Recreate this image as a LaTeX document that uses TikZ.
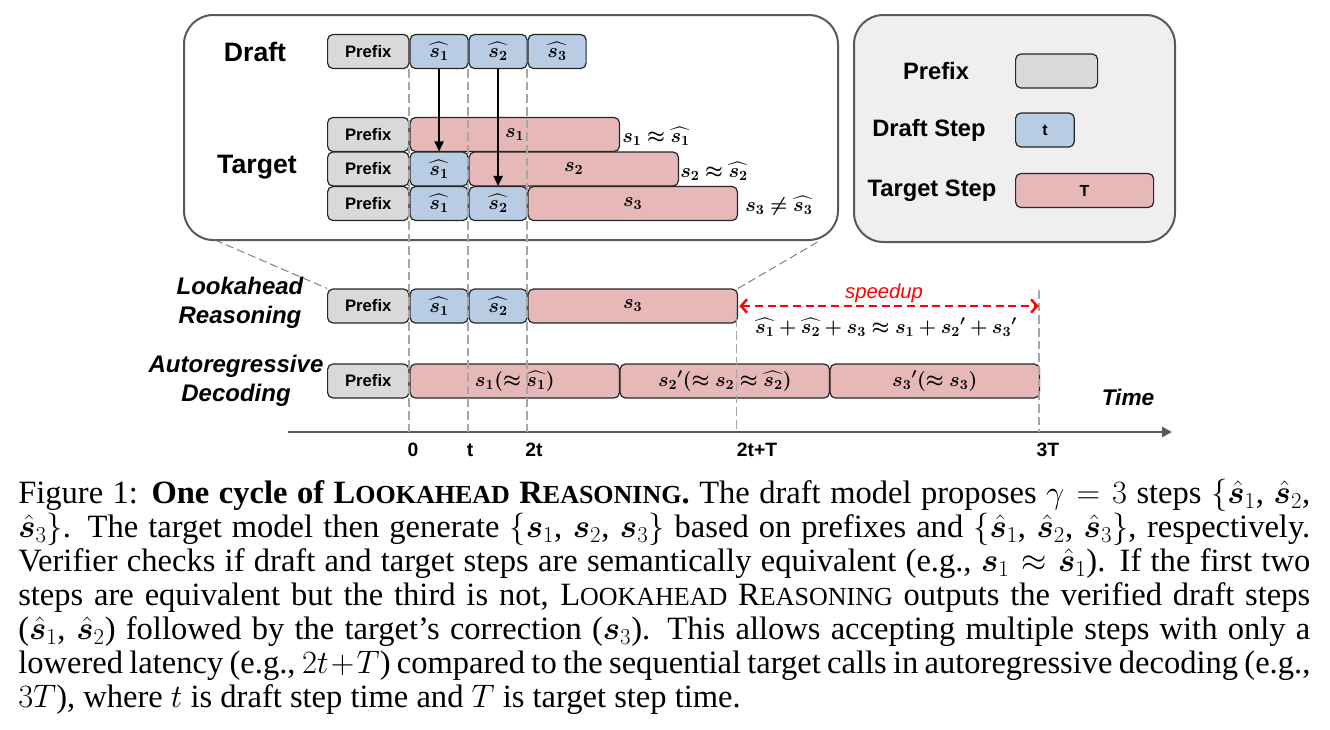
\RequirePackage{fix-cm}
\documentclass[tikz,border=0pt]{standalone}
\usepackage{amsmath,bm}
\usepackage{fontspec}
\setmainfont{Liberation Serif}
\newfontfamily\arial{Liberation Sans}
\usetikzlibrary{arrows.meta}

\definecolor{prefixgray}{HTML}{D9D9D9}
\definecolor{draftblue}{HTML}{B8CCE4}
\definecolor{targetpink}{HTML}{E6B8B7}
\definecolor{framegray}{HTML}{595959}
\definecolor{gridgray}{HTML}{A6A6A6}
\definecolor{legendbg}{HTML}{EFEFEF}

\newcommand{\fakesc}[2]{#1{\fontsize{19.5}{25.5}\selectfont #2}}

\tikzset{
    bar/.style={
        draw=black!85,
        line width=0.9pt,
        rounded corners=4pt,
        anchor=west,
        inner sep=0pt,
        minimum height=25.5pt,
        font=\arial\bfseries\fontsize{12.5}{14}\selectfont
    },
    prefixbar/.style={bar, fill=prefixgray, minimum width=61pt},
    draftbar/.style={bar, fill=draftblue, minimum width=43.5pt, font=\fontsize{15}{17}\selectfont},
    targetbar/.style={bar, fill=targetpink, minimum width=157pt, font=\fontsize{15}{17}\selectfont},
    legendbox/.style={font=\arial\bfseries\fontsize{12}{14}\selectfont},
    frame/.style={draw=framegray, line width=1.5pt, rounded corners=22pt},
    rowlabel/.style={font=\arial\bfseries\fontsize{20}{24}\selectfont},
    sidelabel/.style={font=\arial\bfseries\itshape\fontsize{18}{21.5}\selectfont, align=center},
    legendlabel/.style={font=\arial\bfseries\fontsize{17.8}{20}\selectfont},
    ticklabel/.style={font=\arial\bfseries\fontsize{14.5}{16}\selectfont},
    mathlabel/.style={anchor=west, inner sep=0pt, font=\fontsize{15}{17}\selectfont},
    grid/.style={draw=gridgray, line width=0.8pt, dash pattern=on 6.5pt off 3pt},
    zoomline/.style={draw=framegray!80, line width=0.7pt, dash pattern=on 6pt off 3pt},
    handoff/.style={line width=1.1pt, -{Triangle[length=7.5pt,width=7pt]}},
    speedup/.style={draw=red, line width=1.8pt, dash pattern=on 6pt off 3.5pt,
        {Straight Barb[length=4.5pt,width=10pt]}-{Straight Barb[length=4.5pt,width=10pt]}}
}

\begin{document}
\begin{tikzpicture}[x=0.75pt, y=-0.75pt]
\useasboundingbox (0,0) rectangle (1330,729);

% the zoomed cycle and the legend
\draw[frame, fill=white] (184,15) rectangle (838,240);
\draw[frame, fill=legendbg] (854,15) rectangle (1175,242);

\node[legendlabel] (lgprefix) at (936,71) {Prefix};
\node[legendlabel] (lgdraft) at (929,130) {Draft Step};
\node[legendlabel] (lgtarget) at (932,191) {Target Step};
\node[prefixbar, minimum width=61.5pt] (lgprefixbox) at (1015,71) {};
\node[draftbar, legendbox, minimum width=44pt] (lgdraftbox) at (1015,130) {t};
\node[targetbar, legendbox, minimum width=103.5pt] (lgtargetbox) at (1015,190.5) {T};

% draft row
\node[rowlabel] (draftlbl) at (255,52) {Draft};
\node[prefixbar] (d0) at (327,51.5) {Prefix};
\node[draftbar] (d1) at (409.5,51.5) {$\widehat{\bm{s_1}}$};
\node[draftbar] (d2) at (468.5,51.5) {$\widehat{\bm{s_2}}$};
\node[draftbar] (d3) at (527.5,51.5) {$\widehat{\bm{s_3}}$};

% target rows
\node[rowlabel] (targetlbl) at (257,167) {Target};
\node[prefixbar] (ta0) at (327,134.5) {Prefix};
\node[targetbar] (ta1) at (409.5,134.5) {$\bm{s_1}$};
\node[prefixbar] (tb0) at (327,169) {Prefix};
\node[draftbar] (tb1) at (409.5,169) {$\widehat{\bm{s_1}}$};
\node[targetbar] (tb2) at (468.5,169) {$\bm{s_2}$};
\node[prefixbar] (tc0) at (327,203.5) {Prefix};
\node[draftbar] (tc1) at (409.5,203.5) {$\widehat{\bm{s_1}}$};
\node[draftbar] (tc2) at (468.5,203.5) {$\widehat{\bm{s_2}}$};
\node[targetbar] (tc3) at (527.5,203.5) {$\bm{s_3}$};

\node[mathlabel] (eqa) at (622,136) {$\bm{s_1\approx\widehat{s_1}}$};
\node[mathlabel] (eqb) at (680,171) {$\bm{s_2\approx\widehat{s_2}}$};
\node[mathlabel] (eqc) at (745,206) {$\bm{s_3\neq\widehat{s_3}}$};

\draw[handoff] (d1.south) -- (tb1.north);
\draw[handoff] (d2.south) -- (tc2.north);

% lookahead reasoning
\node[sidelabel] (lalbl) at (240,303) {Lookahead\\Reasoning};
\node[prefixbar] (la0) at (327,306) {Prefix};
\node[draftbar] (la1) at (409.5,306) {$\widehat{\bm{s_1}}$};
\node[draftbar] (la2) at (468.5,306) {$\widehat{\bm{s_2}}$};
\node[targetbar] (la3) at (527.5,306) {$\bm{s_3}$};

% autoregressive decoding
\node[sidelabel] (arlbl) at (236,381) {Autoregressive\\Decoding};
\node[prefixbar] (ar0) at (327,381) {Prefix};
\node[targetbar] (ar1) at (409.5,381) {$\bm{s_1(\approx\widehat{s_1})}$};
\node[targetbar] (ar2) at (619.5,381) {$\bm{{s_2}'(\approx s_2\approx\widehat{s_2})}$};
\node[targetbar] (ar3) at (829.5,381) {$\bm{{s_3}'(\approx s_3)}$};

\draw[zoomline] (215,240) -- (la0.north west);
\draw[zoomline] (la3.north east) -- (821,240);

% time axis
\coordinate (axl) at (288,432);
\coordinate (axr) at (1172,432);
\draw[framegray, line width=1.8pt, -{Triangle[length=7.5pt,width=7.5pt]}] (axl) -- (axr);
\node[font=\arial\bfseries\itshape\fontsize{17}{20}\selectfont] (timelbl) at (1128,397) {Time};

\foreach \x in {409,468,527}
    \draw[grid] (\x,69) -- (\x,432);
\draw[grid] (736.5,306) -- (736.5,432);
\draw[grid] (1039,290) -- (1039,432);

\node[ticklabel] (tk0) at (413,450) {0};
\node[ticklabel] (tk1) at (470,450) {t};
\node[ticklabel] (tk2) at (534,450) {2t};
\node[ticklabel] (tk3) at (757,450) {2t+T};
\node[ticklabel] (tk4) at (1048,450) {3T};

% speedup
\coordinate (endT) at (ar3.east |- la3.east);
\draw[speedup] ([xshift=1pt]la3.east) -- ([xshift=-1pt]endT);
\node[text=red, font=\arial\itshape\fontsize{15.2}{17}\selectfont] (spdlbl) at (884,293) {speedup};
\node[font=\fontsize{15}{17}\selectfont] (spdeq) at (886,327)
    {$\bm{\widehat{s_1}+\widehat{s_2}+s_3\approx s_1+{s_2}'+{s_3}'}$};

% caption
\node[anchor=north west, inner sep=0pt, text width=969pt, align=justify,
      font=\fontsize{24.4}{25.5}\selectfont] (caption) at (18,479) {%
Figure 1: \textbf{One cycle of \fakesc{L}{OOKAHEAD} \fakesc{R}{EASONING}.} The draft model proposes $\gamma=3$ steps $\{\hat{\bm{s}}_1$, $\hat{\bm{s}}_2$,\linebreak
$\hat{\bm{s}}_3\}$. The target model then generate $\{\bm{s}_1$, $\bm{s}_2$, $\bm{s}_3\}$ based on prefixes and $\{\hat{\bm{s}}_1$, $\hat{\bm{s}}_2$, $\hat{\bm{s}}_3\}$, respectively.\linebreak
Verifier checks if draft and target steps are semantically equivalent (e.g., $\bm{s}_1\approx\hat{\bm{s}}_1$). If the first two\linebreak
steps are equivalent but the third is not, \fakesc{L}{OOKAHEAD} \fakesc{R}{EASONING} outputs the verified draft steps\linebreak
($\hat{\bm{s}}_1$, $\hat{\bm{s}}_2$) followed by the target's correction ($\bm{s}_3$). This allows accepting multiple steps with only a\linebreak
lowered latency (e.g., $2t+T$) compared to the sequential target calls in autoregressive decoding (e.g.,\linebreak
$3T$), where $t$ is draft step time and $T$ is target step time.};
\end{tikzpicture}
\end{document}
